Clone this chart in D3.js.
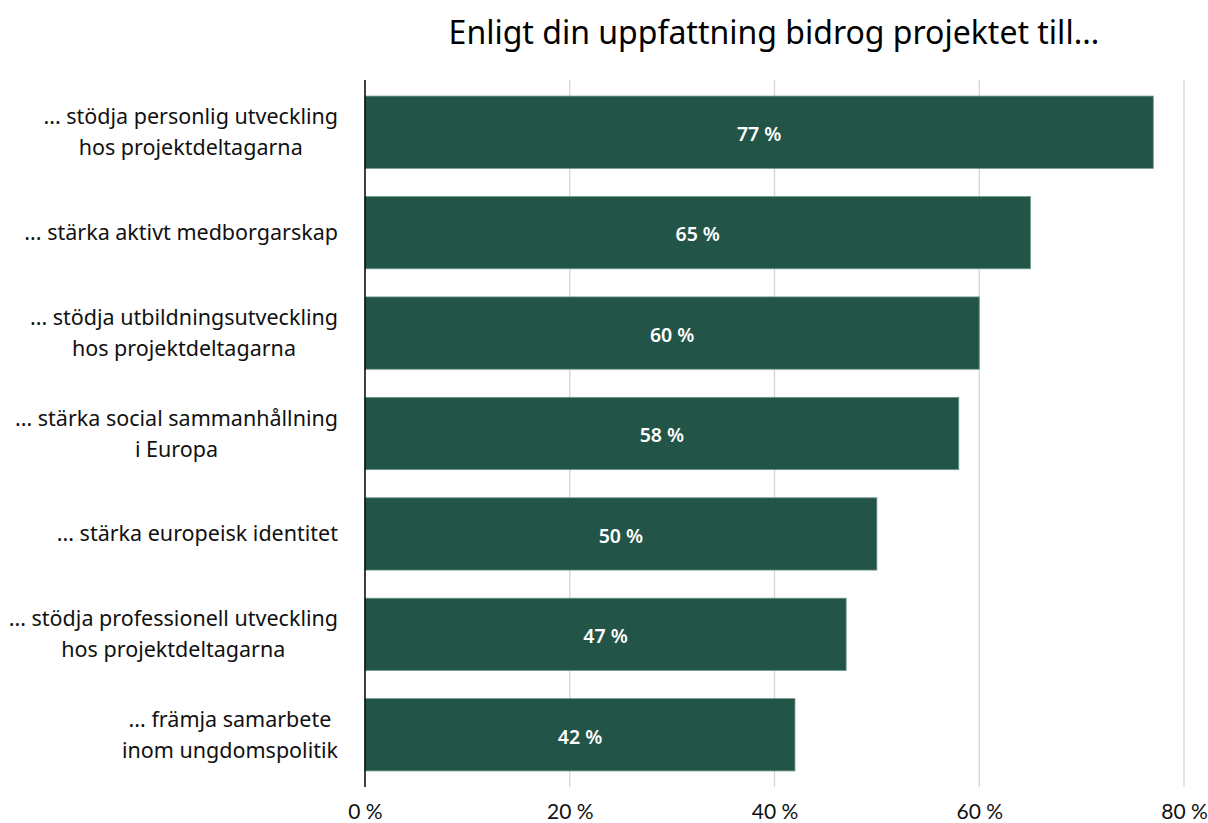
<!DOCTYPE html>
<html>
<head>
<meta charset="utf-8">
<script src="https://cdn.jsdelivr.net/npm/d3@7"></script>
<style>
  body { margin: 0; background: #fff; }
  .title { font-family: "Noto Sans", sans-serif; font-size: 32px; fill: #000; }
  .cat { font-family: "Noto Sans", sans-serif; font-size: 21.5px; fill: #111; }
  .val { font-family: "Noto Sans", sans-serif; font-size: 19.5px; font-weight: 600; fill: #fff; }
  .x.axis text { font-family: Lato, "Noto Sans", sans-serif; font-size: 21px; fill: #111; }
</style>
</head>
<body>
<div id="chart"></div>
<script>
/*
Data
*/
var categories = [
  ["... stödja personlig utveckling", "hos projektdeltagarna"],
  ["... stärka aktivt medborgarskap"],
  ["... stödja utbildningsutveckling", "hos projektdeltagarna"],
  ["... stärka social sammanhållning", "i Europa"],
  ["... stärka europeisk identitet"],
  ["... stödja professionell utveckling", "hos projektdeltagarna"],
  ["... främja samarbete", "inom ungdomspolitik"]
];
var values = [77, 65, 60, 58, 50, 47, 42];
var tickValues = [0, 20, 40, 60, 80];
var titleText = "Enligt din uppfattning bidrog projektet till...";

/*
Sizes
*/
var width = 1208, height = 823;
var margin = { top: 80, right: 24, bottom: 36, left: 365 };
var innerW = 1184 - margin.left;
var innerH = 787 - margin.top;

var svg = d3.select("#chart").append("svg")
  .attr("width", width)
  .attr("height", height);

// Title
svg.append("text")
  .attr("class", "title")
  .attr("x", 774)
  .attr("y", 44)
  .attr("text-anchor", "middle")
  .text(titleText);

var g = svg.append("g")
  .attr("transform", "translate(" + margin.left + "," + margin.top + ")");

// Scales
var xScale = d3.scaleLinear().domain([0, 80]).range([0, innerW]);
var yScale = d3.scaleBand()
  .domain(d3.range(values.length))
  .range([0, innerH])
  .paddingInner(0.28)
  .paddingOuter(0.16);

// Gridlines
g.append("g").selectAll("line")
  .data(tickValues.slice(1))
  .enter().append("line")
  .attr("x1", function(d) { return xScale(d); })
  .attr("x2", function(d) { return xScale(d); })
  .attr("y1", 0)
  .attr("y2", innerH)
  .attr("stroke", "#d4d4d4")
  .attr("stroke-width", 1.3);

// x axis (labels only)
var xAxis = d3.axisBottom(xScale)
  .tickValues(tickValues)
  .tickSize(0)
  .tickPadding(17)
  .tickFormat(function(d) { return d + " %"; });

g.append("g")
  .attr("class", "x axis")
  .attr("transform", "translate(0," + innerH + ")")
  .call(xAxis)
  .call(function(a) { a.select(".domain").remove(); });

// Bars
g.append("g").selectAll("rect")
  .data(values)
  .enter().append("rect")
  .attr("x", 0)
  .attr("y", function(d, i) { return yScale(i); })
  .attr("width", function(d) { return xScale(d); })
  .attr("height", yScale.bandwidth())
  .attr("fill", "#235448")
  .attr("stroke", "#6f9a8c")
  .attr("stroke-width", 0.8);

// Value labels
g.append("g").selectAll("text")
  .data(values)
  .enter().append("text")
  .attr("class", "val")
  .attr("x", function(d) { return xScale(d) / 2; })
  .attr("y", function(d, i) { return yScale(i) + yScale.bandwidth() / 2 + 2; })
  .attr("dy", "0.35em")
  .attr("text-anchor", "middle")
  .text(function(d) { return d + " %"; });

// y axis line
g.append("line")
  .attr("x1", 0).attr("x2", 0)
  .attr("y1", 0).attr("y2", innerH)
  .attr("stroke", "#000")
  .attr("stroke-width", 1.5);

// Category labels: centered lines inside a right-aligned block
var lineH = 31;
var rightEdge = -27;
var cats = g.append("g").selectAll("text")
  .data(categories)
  .enter().append("text")
  .attr("class", "cat")
  .attr("text-anchor", "middle");

cats.each(function(lines, i) {
  var t = d3.select(this);
  var cy = yScale(i) + yScale.bandwidth() / 2;
  var top = cy - (lines.length - 1) * lineH / 2;
  lines.forEach(function(s, j) {
    t.append("tspan")
      .attr("y", top + j * lineH)
      .attr("dy", "0.35em")
      .text(s);
  });
  var maxW = 0;
  t.selectAll("tspan").each(function() {
    maxW = Math.max(maxW, this.getComputedTextLength());
  });
  t.selectAll("tspan").attr("x", rightEdge - maxW / 2);
});
</script>
</body>
</html>
